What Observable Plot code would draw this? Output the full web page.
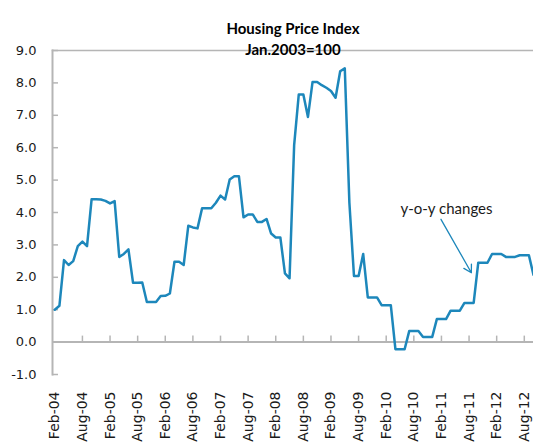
<!DOCTYPE html>
<html>
<head>
<meta charset="utf-8">
<script src="https://cdn.jsdelivr.net/npm/d3@7"></script>
<script src="https://cdn.jsdelivr.net/npm/@observablehq/plot@0.6"></script>
<style>
  html, body { margin: 0; padding: 0; background: #fff; }
  #chart { width: 533px; height: 445px; overflow: hidden; }
</style>
</head>
<body>
<div id="chart"></div>
<script>
// Monthly y-o-y change of the housing price index, Feb-04 ... Oct-12
const values = [
  1.00, 1.12, 2.53, 2.38, 2.50, 2.96, 3.10, 2.96, 4.41, 4.41, 4.40, 4.36,   // Feb-04 .. Jan-05
  4.28, 4.35, 2.63, 2.72, 2.86, 1.83, 1.83, 1.84, 1.24, 1.24, 1.24, 1.42,   // Feb-05 .. Jan-06
  1.43, 1.50, 2.48, 2.48, 2.38, 3.59, 3.54, 3.51, 4.13, 4.13, 4.13, 4.30,   // Feb-06 .. Jan-07
  4.52, 4.40, 5.02, 5.12, 5.12, 3.85, 3.94, 3.94, 3.71, 3.71, 3.80, 3.35,   // Feb-07 .. Jan-08
  3.23, 3.23, 2.12, 1.97, 6.08, 7.64, 7.64, 6.95, 8.03, 8.03, 7.93, 7.85,   // Feb-08 .. Jan-09
  7.75, 7.54, 8.36, 8.45, 4.30, 2.04, 2.04, 2.72, 1.38, 1.38, 1.38, 1.14,   // Feb-09 .. Jan-10
  1.14, 1.14, -0.22, -0.22, -0.22, 0.34, 0.34, 0.34, 0.16, 0.16, 0.16, 0.71, // Feb-10 .. Jan-11
  0.71, 0.71, 0.97, 0.97, 0.97, 1.21, 1.21, 1.21, 2.45, 2.45, 2.45, 2.72,   // Feb-11 .. Jan-12
  2.72, 2.72, 2.63, 2.63, 2.63, 2.68, 2.68, 2.68, 2.07                      // Feb-12 .. Oct-12
];
const tickLabels = ["Feb-04","Aug-04","Feb-05","Aug-05","Feb-06","Aug-06","Feb-07","Aug-07",
  "Feb-08","Aug-08","Feb-09","Aug-09","Feb-10","Aug-10","Feb-11","Aug-11","Feb-12","Aug-12"];
const labelStep = 6;                       // one label every 6 months
const yTicks = [-1, 0, 1, 2, 3, 4, 5, 6, 7, 8, 9];
const yDomain = [-1, 9];
const xStart = -0.5;                       // category axis starts half a month before Feb-04
const titleLines = ["Housing Price Index", "Jan.2003=100"];
const annotText = ["y-o-y changes"];
const annotAt = [{x: 75.1, y: 4.11}];      // in data units (month index, %)
const arrowFrom = {x: 83.9, y: 3.79};
const arrowTo = {x: 90.5, y: 2.14};

const series = values.map((v, i) => ({i, v}));
const labelIdx = tickLabels.map((_, k) => k * labelStep);
const tickIdx = tickLabels.slice(1).map((_, k) => (k + 1) * labelStep);

const lineColor = "#1d87bb";
const axisColor = "#b5b5b5";
const textColor = "#1a1a1a";

const chart = Plot.plot({
  width: 533,
  height: 445,
  marginLeft: 52,
  marginRight: 0,
  marginTop: 50,
  marginBottom: 71,
  style: {fontFamily: "'DejaVu Sans', sans-serif", color: textColor, background: "#fff"},
  x: {type: "linear", domain: [xStart, values.length - 1], label: null},
  y: {domain: yDomain, label: null},
  marks: [
    Plot.frame({anchor: "top", stroke: axisColor, strokeWidth: 1.5}),
    Plot.frame({anchor: "left", stroke: axisColor, strokeWidth: 2}),
    Plot.ruleY([0], {stroke: axisColor, strokeWidth: 2}),
    Plot.ruleY(yTicks, {x1: xStart, x2: xStart, insetRight: -6, stroke: axisColor, strokeWidth: 1.5}),
    Plot.ruleX(tickIdx, {y1: 0, y2: 0, insetTop: -6, stroke: axisColor, strokeWidth: 1.5}),
    Plot.axisY(yTicks, {label: null, tickSize: 0, tickPadding: 16, tickFormat: d => d.toFixed(1), fontSize: 13, fill: textColor}),
    Plot.axisX(labelIdx, {label: null, tickSize: 0, tickPadding: 17, tickRotate: -90, fontSize: 14, fill: textColor,
      tickFormat: d => tickLabels[Math.round(d / labelStep)]}),
    Plot.line(series, {x: "i", y: "v", stroke: lineColor, strokeWidth: 2.5, strokeLinejoin: "round"}),
    Plot.arrow([0], {x1: () => arrowFrom.x, y1: () => arrowFrom.y, x2: () => arrowTo.x, y2: () => arrowTo.y,
      stroke: lineColor, strokeWidth: 1.3, headLength: 10, bend: 0}),
    Plot.text(annotText, {x: annotAt.map(a => a.x), y: annotAt.map(a => a.y), text: d => d, textAnchor: "start",
      fontSize: 15, fontFamily: "Lato, sans-serif", fill: textColor}),
    Plot.text([titleLines[0]], {frameAnchor: "top", dy: -27.5, text: d => d, fontSize: 15, fontWeight: "bold",
      fontFamily: "Lato, sans-serif", fill: "#000"}),
    Plot.text([titleLines[1]], {frameAnchor: "top", dy: -5.8, text: d => d, fontSize: 15, fontWeight: "bold",
      fontFamily: "Lato, sans-serif", fill: "#000"})
  ]
});
document.getElementById("chart").append(chart);
</script>
</body>
</html>
